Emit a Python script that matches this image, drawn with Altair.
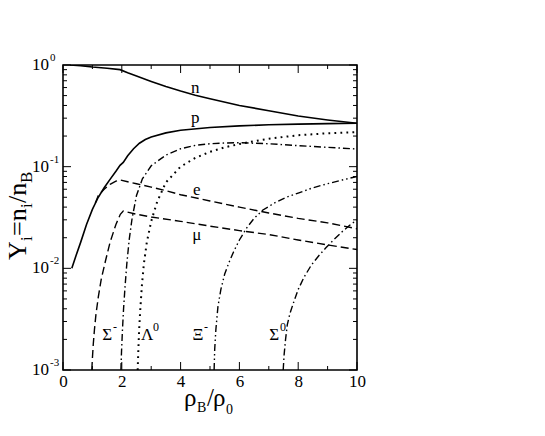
import altair as alt
import pandas as pd

# ---- data ----
n_x = [0.24, 0.6, 1.0, 1.5, 1.94, 2.2, 2.5, 3.0, 3.5, 4.0, 4.5, 5.0, 6.0, 7.0, 8.0, 9.0, 10.0]
n_y = [1.0, 0.985, 0.955, 0.93, 0.90, 0.84, 0.78, 0.69, 0.615, 0.555, 0.505, 0.465, 0.40, 0.355, 0.315, 0.288, 0.267]

p_x = [0.3, 0.45, 0.6, 0.8, 1.0, 1.2, 1.4, 1.6, 1.8, 1.94, 2.05, 2.2, 2.4, 2.6, 2.8, 3.0, 3.5, 4.0, 5.0, 6.0, 7.0, 8.0, 9.0, 10.0]
p_y = [0.01, 0.0135, 0.018, 0.027, 0.038, 0.05, 0.062, 0.075, 0.09, 0.103, 0.11, 0.128, 0.15, 0.17, 0.185, 0.196, 0.215, 0.228, 0.243, 0.252, 0.258, 0.262, 0.265, 0.267]

e_x = [1.1, 1.2, 1.4, 1.6, 1.8, 1.94, 2.2, 2.5, 3.0, 3.5, 4.0, 5.0, 6.0, 7.0, 8.0, 9.0, 10.0]
e_y = [0.044, 0.052, 0.06, 0.067, 0.072, 0.074, 0.071, 0.068, 0.063, 0.058, 0.053, 0.046, 0.040, 0.035, 0.031, 0.028, 0.0245]

mu_x = [0.98, 1.0, 1.03, 1.07, 1.12, 1.2, 1.3, 1.45, 1.6, 1.8, 1.95, 2.05, 2.5, 3.0, 4.0, 5.0, 6.0, 7.0, 8.0, 9.0, 10.0]
mu_y = [0.001, 0.0013, 0.0018, 0.0025, 0.0035, 0.0052, 0.0078, 0.012, 0.018, 0.027, 0.034, 0.0366, 0.034, 0.032, 0.029, 0.026, 0.0235, 0.0215, 0.019, 0.017, 0.0153]

sm_x = [1.97, 1.99, 2.02, 2.06, 2.11, 2.17, 2.25, 2.35, 2.5, 2.7, 3.0, 3.5, 4.0, 4.5, 5.0, 5.5, 6.0, 7.0, 8.0, 9.0, 10.0]
sm_y = [0.001, 0.0015, 0.0024, 0.004, 0.0066, 0.011, 0.019, 0.031, 0.052, 0.076, 0.102, 0.13, 0.15, 0.162, 0.168, 0.171, 0.172, 0.168, 0.161, 0.155, 0.149]

la_x = [2.54, 2.56, 2.59, 2.63, 2.68, 2.75, 2.85, 3.0, 3.2, 3.5, 4.0, 4.5, 5.0, 5.5, 6.0, 6.5, 7.0, 8.0, 9.0, 10.0]
la_y = [0.001, 0.0015, 0.0025, 0.004, 0.0066, 0.011, 0.018, 0.029, 0.045, 0.07, 0.1, 0.122, 0.14, 0.155, 0.167, 0.178, 0.188, 0.204, 0.213, 0.219]

xi_x = [5.14, 5.16, 5.2, 5.27, 5.37, 5.5, 5.65, 5.8, 6.0, 6.25, 6.5, 6.8, 7.2, 7.6, 8.0, 8.5, 9.0, 9.5, 10.0]
xi_y = [0.001, 0.0016, 0.0025, 0.0042, 0.0062, 0.0088, 0.0115, 0.0145, 0.019, 0.025, 0.031, 0.0375, 0.044, 0.05, 0.055, 0.062, 0.068, 0.074, 0.08]

s0_x = [7.49, 7.52, 7.57, 7.63, 7.72, 7.83, 8.0, 8.2, 8.45, 8.7, 8.95, 9.2, 9.5, 9.75, 10.0]
s0_y = [0.001, 0.0014, 0.002, 0.0028, 0.0036, 0.0045, 0.0062, 0.0082, 0.0108, 0.0133, 0.016, 0.019, 0.023, 0.0265, 0.030]

# curve labels
lab_text = ["n", "p", "e", "\u03bc", "\u03a3", "\u039b", "\u039e", "\u03a3"]
lab_sup = ["", "", "", "", "-", "0", "-", "0"]
lab_x = [4.5, 4.5, 4.55, 4.55, 1.5, 2.86, 4.59, 7.18]
lab_y = [0.60, 0.30, 0.059, 0.0215, 0.0022, 0.0022, 0.0022, 0.0022]

x_ticks_major = [0, 2, 4, 6, 8, 10]
x_ticks_minor = [1, 3, 5, 7, 9]
y_ticks_major = [0.001, 0.01, 0.1, 1.0]
y_ticks_minor = [k * 10.0 ** d for d in (-3, -2, -1) for k in range(2, 10)]
y_tick_exp = ["-3", "-2", "-1", "0"]

W, H = 294, 305
FONT = "Liberation Serif"

xs = alt.Scale(domain=[0, 10], nice=False, zero=False)
ys = alt.Scale(type="log", domain=[0.001, 1], nice=False)

series = [
    (n_x, n_y, [], 1.6),
    (p_x, p_y, [], 1.6),
    (e_x, e_y, [8, 4], 1.4),
    (mu_x, mu_y, [8, 4], 1.4),
    (sm_x, sm_y, [7, 3, 1.5, 3], 1.4),
    (la_x, la_y, [1.8, 4.2], 2.0),
    (xi_x, xi_y, [7, 3, 1.5, 3, 1.5, 3], 1.4),
    (s0_x, s0_y, [7, 3, 1.5, 3], 1.4),
]

layers = []
for sx, sy, dash, w in series:
    df = pd.DataFrame({"x": sx, "y": sy})
    kw = dict(color="black", strokeWidth=w, clip=True)
    if dash:
        kw["strokeDash"] = dash
    layers.append(
        alt.Chart(df).mark_line(**kw).encode(
            x=alt.X("x:Q", scale=xs,
                    axis=alt.Axis(values=x_ticks_major, ticks=False, domain=False, grid=False,
                                  title=None, labelFont=FONT, labelFontSize=17,
                                  labelColor="black", labelPadding=3, labelFlush=False)),
            y=alt.Y("y:Q", scale=ys, axis=None),
        )
    )

# ticks (inside, mirrored)
def xticks(vals, L):
    d = pd.DataFrame({"x": vals})
    bot = alt.Chart(d).mark_rule(color="black", strokeWidth=1).encode(
        x=alt.X("x:Q", scale=xs), y=alt.value(H), y2=alt.value(H - L))
    top = alt.Chart(d).mark_rule(color="black", strokeWidth=1).encode(
        x=alt.X("x:Q", scale=xs), y=alt.value(0), y2=alt.value(L))
    return [bot, top]

def yticks(vals, L):
    d = pd.DataFrame({"y": vals})
    left = alt.Chart(d).mark_rule(color="black", strokeWidth=1).encode(
        y=alt.Y("y:Q", scale=ys), x=alt.value(0), x2=alt.value(L))
    right = alt.Chart(d).mark_rule(color="black", strokeWidth=1).encode(
        y=alt.Y("y:Q", scale=ys), x=alt.value(W), x2=alt.value(W - L))
    return [left, right]

layers += xticks(x_ticks_major, 8) + xticks(x_ticks_minor, 4)
layers += yticks(y_ticks_major, 8) + yticks(y_ticks_minor, 4)

# y tick labels 10^k
ylab = pd.DataFrame({"y": y_ticks_major, "e": y_tick_exp})
layers.append(alt.Chart(ylab).mark_text(font=FONT, fontSize=17, align="right", baseline="middle",
                                        color="black").encode(
    y=alt.Y("y:Q", scale=ys), x=alt.value(-14), text=alt.value("10")))
layers.append(alt.Chart(ylab).mark_text(font=FONT, fontSize=11, align="left", baseline="middle",
                                        dy=-7, color="black").encode(
    y=alt.Y("y:Q", scale=ys), x=alt.value(-13), text="e:N"))

# curve labels
lab = pd.DataFrame({"x": lab_x, "y": lab_y, "t": lab_text, "s": lab_sup})
layers.append(alt.Chart(lab).mark_text(font=FONT, fontSize=17, align="center", baseline="middle",
                                       color="black").encode(
    x=alt.X("x:Q", scale=xs), y=alt.Y("y:Q", scale=ys), text="t:N"))
layers.append(alt.Chart(lab).mark_text(font=FONT, fontSize=12, align="left", baseline="middle",
                                       dx=6, dy=-8, color="black").encode(
    x=alt.X("x:Q", scale=xs), y=alt.Y("y:Q", scale=ys), text="s:N"))

# axis titles built from pieces (sub-scripts)
def piece(txt, px, py, size, angle=0):
    return alt.Chart(pd.DataFrame({"a": [0]})).mark_text(
        text=txt, font=FONT, fontSize=size, align="left", baseline="alphabetic",
        angle=angle, color="black").encode(x=alt.value(px), y=alt.value(py))

# x title: rho_B / rho_0  (page coords minus plot origin 63,65)
layers += [
    piece("\u03c1", 184 - 63, 406 - 65, 25),
    piece("B", 197 - 63, 412 - 65, 14),
    piece("/", 207 - 63, 406 - 65, 25),
    piece("\u03c1", 213 - 63, 406 - 65, 25),
    piece("0", 226 - 63, 414 - 65, 14),
]

# y title: Y_i = n_i / n_B  (rotated, reads bottom to top)
bx, sbx = 26 - 63, 32 - 63
layers += [
    piece("Y", bx, 260 - 65, 26, 270),
    piece("i", sbx, 241 - 65, 17, 270),
    piece("=n", bx, 236 - 65, 26, 270),
    piece("i", sbx, 208 - 65, 17, 270),
    piece("/n", bx, 203 - 65, 26, 270),
    piece("B", sbx, 183 - 65, 17, 270),
]

chart = alt.layer(*layers).properties(
    width=W, height=H,
    autosize=alt.AutoSizeParams(type="none"),
    padding={"left": 55, "top": 57, "right": 180, "bottom": 58},
).configure_view(stroke="black", strokeWidth=1.6)

chart.save("out.html", embed_options={"renderer": "svg", "actions": False})
